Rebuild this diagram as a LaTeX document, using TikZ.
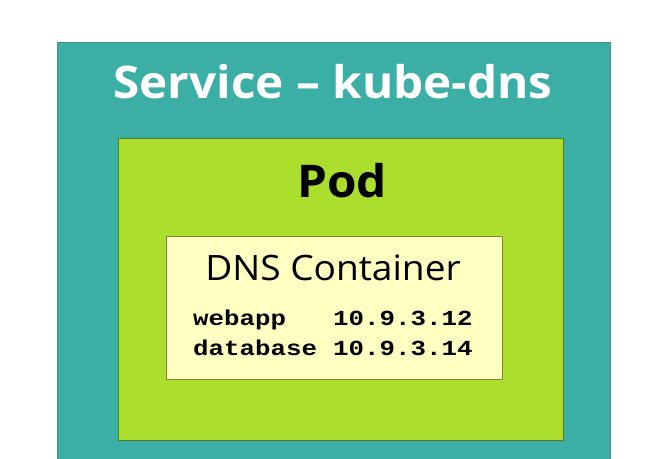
\documentclass[tikz,border=0pt]{standalone}
\usepackage{fontspec}
\setmainfont{Open Sans}
\newfontfamily\titlefont[FakeStretch=1.06]{Open Sans}
\newfontfamily\dnsmono[FakeStretch=1.2]{Liberation Mono}
\usetikzlibrary{positioning}

\definecolor{servicefill}{HTML}{3BAFA5}
\definecolor{servicedraw}{HTML}{4E8C86}
\definecolor{podfill}{HTML}{ABDE2D}
\definecolor{poddraw}{HTML}{4F7E22}
\definecolor{boxfill}{HTML}{FFFFC2}
\definecolor{boxdraw}{HTML}{7E8A2A}

\tikzset{
  layer/.style={draw, line width=1.2pt, inner sep=0pt, anchor=north west},
  title/.style={anchor=base, inner sep=0pt, font=\titlefont\bfseries\fontsize{45}{52}\selectfont},
  record/.style={anchor=base west, inner sep=0pt, font=\dnsmono\bfseries\fontsize{21.5}{26}\selectfont}
}

\begin{document}
\begin{tikzpicture}[x=1pt,y=-1pt]
  \path[use as bounding box, clip] (0,0) rectangle (672,458);
  \fill[white] (0,0) rectangle (672,458);

  % nested boxes
  \node[layer, draw=servicedraw, fill=servicefill, minimum width=553pt, minimum height=440pt] (service) at (57,42) {};
  \node[layer, draw=poddraw, fill=podfill, minimum width=445pt, minimum height=302pt] (pod) at (118,138) {};
  \node[layer, draw=boxdraw, fill=boxfill, minimum width=336pt, minimum height=143pt] (container) at (166,236) {};

  % labels
  \node[title, text=white] (servicename) at (333,98) {Service – kube-dns};
  \node[title] (podname) at (342,197) {Pod};
  \node[anchor=base, inner sep=0pt, font=\titlefont\fontsize{35}{42}\selectfont] (dnsname) at (333,280) {DNS Container};

  % dns records
  \node[record] (webapp) at (193,325) {webapp};
  \node[record] (webappip) at (333,325) {10.9.3.12};
  \node[record] (database) at (193,355) {database};
  \node[record] (databaseip) at (333,355) {10.9.3.14};
\end{tikzpicture}
\end{document}
